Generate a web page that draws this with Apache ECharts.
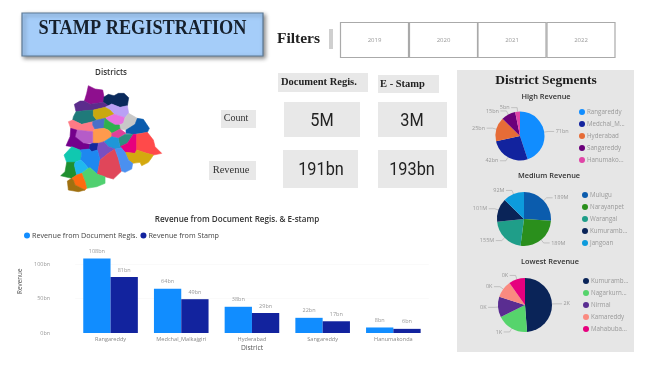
<!DOCTYPE html>
<html><head><meta charset="utf-8">
<style>html,body{margin:0;padding:0;background:#fff}#c{width:650px;height:374px;filter:blur(0.35px)}</style>
<script src="https://cdn.jsdelivr.net/npm/echarts@6/dist/echarts.min.js"></script>
</head><body><div id="c"></div>
<script>
const barDistricts = ['Rangareddy','Medchal_Malkajgiri','Hyderabad','Sangareddy','Hanumakonda'];
const docRevenue = [108,64,38,22,8];
const stampRevenue = [81,49,29,17,6];
const yTicks = [0,50,100];

const highNames = ['Rangareddy','Medchal_Malkajgiri','Hyderabad','Sangareddy','Hanumakonda'];
const highValues = [71,42,25,15,5];
const highColors = ['#118DFF','#12239E','#E66C37','#6B007B','#E044A7'];

const mediumNames = ['Mulugu','Narayanpet','Warangal','Kumurambheem','Jangoan'];
const mediumValues = [189,189,155,101,92];
const mediumColors = ['#0B5CAD','#2A8F1C','#1F9E89','#0A2458','#0D9BDC'];

const lowNames = ['Kumurambheem','Nagarkurnool','Nirmal','Kamareddy','Mahabubabad'];
const lowValues = [1600,620,400,340,320];
const lowColors = ['#0A2458','#56D46C','#5A2D91','#FA8A80','#E6007E'];

const years = ['2019','2020','2021','2022'];

// District outlines of the state map (map geometry, x / y in map units)
const mapShapes = [
 ['#8E0F8E',[[145,32],[165,42],[188,45],[192,66],[190,82],[150,88],[133,78],[140,55]]],
 ['#0A2A5C',[[192,66],[205,58],[222,62],[235,55],[252,55],[266,68],[262,92],[240,97],[215,87],[205,92],[190,82]]],
 ['#5B2C8C',[[103,88],[120,78],[133,78],[150,88],[190,82],[205,92],[195,97],[160,105],[125,108],[108,110]]],
 ['#B9A0F5',[[205,92],[215,87],[240,97],[262,92],[266,115],[255,128],[222,118],[210,105],[195,97]]],
 ['#1F7A7A',[[108,110],[125,108],[160,105],[160,122],[170,135],[158,140],[125,148],[98,135],[100,125]]],
 ['#C9A80F',[[160,105],[195,97],[210,105],[222,118],[212,122],[195,130],[170,135],[160,122]]],
 ['#E870E0',[[212,122],[222,118],[255,128],[250,145],[238,150],[225,150],[208,140],[195,130]]],
 ['#C8C8C8',[[255,128],[266,115],[292,130],[285,148],[258,165],[240,162],[238,150],[250,145]]],
 ['#0B5CAD',[[292,130],[310,133],[328,160],[322,172],[280,178],[258,175],[258,165],[285,148]]],
 ['#FF7A85',[[85,140],[98,135],[125,148],[158,140],[158,150],[165,163],[158,170],[110,165],[92,160]]],
 ['#4A70C8',[[158,140],[170,135],[195,130],[192,150],[192,160],[165,163],[158,150]]],
 ['#2FB04F',[[195,130],[208,140],[225,150],[238,150],[240,162],[225,170],[215,175],[205,165],[192,160],[192,150]]],
 ['#FF9A4D',[[165,163],[192,160],[205,165],[215,175],[215,185],[192,200],[175,205],[158,205],[158,170]]],
 ['#B55CC8',[[110,165],[158,170],[158,205],[130,205],[105,185]]],
 ['#74008C',[[92,160],[110,165],[105,185],[130,205],[150,208],[148,222],[120,225],[95,215],[78,212],[90,185]]],
 ['#E0409A',[[215,175],[225,170],[240,162],[258,175],[255,178],[235,190],[215,185]]],
 ['#2C9080',[[235,190],[255,178],[280,178],[262,205],[240,215],[235,195]]],
 ['#E6007E',[[240,215],[262,205],[280,178],[290,178],[290,225],[285,235],[255,232],[245,220]]],
 ['#FF4A4A',[[290,178],[322,172],[340,195],[345,215],[365,235],[340,240],[320,235],[290,225]]],
 ['#D4A90F',[[255,232],[285,235],[290,225],[320,235],[340,240],[335,248],[325,262],[305,272],[300,262],[278,265],[265,255]]],
 ['#1F96D8',[[192,200],[215,185],[235,190],[235,195],[240,215],[245,220],[225,222],[205,215]]],
 ['#14289C',[[150,208],[158,205],[175,205],[172,225],[155,230],[148,222]]],
 ['#7A4FC0',[[175,205],[192,200],[205,215],[225,222],[205,235],[180,255],[172,225]]],
 ['#10C8B0',[[72,240],[95,215],[120,225],[125,235],[122,255],[105,262],[80,262]]],
 ['#1E88F0',[[120,225],[148,222],[155,230],[172,225],[180,255],[172,298],[150,278],[145,280],[130,262],[122,255],[125,235]]],
 ['#E0465A',[[180,255],[205,235],[225,222],[235,250],[245,288],[220,312],[195,305],[172,298]]],
 ['#4A90F0',[[225,222],[245,220],[255,232],[265,255],[278,265],[275,282],[255,292],[245,288],[235,250]]],
 ['#1F8F2F',[[80,262],[105,262],[103,270],[110,300],[95,310],[62,302],[75,290]]],
 ['#20B8EE',[[105,262],[122,255],[130,262],[145,280],[125,295],[110,300],[103,270]]],
 ['#50D070',[[125,295],[145,280],[150,278],[172,298],[195,305],[195,325],[170,335],[140,340],[135,320]]],
 ['#FF6A10',[[95,310],[110,300],[125,295],[135,320],[140,340],[135,345],[105,330],[100,315]]],
 ['#A07010',[[82,318],[95,310],[100,315],[105,330],[135,345],[115,350],[85,345]]]
];

const sans = '"Open Sans","Noto Sans",sans-serif';
const serif = '"Liberation Serif",serif';
const din = 'Roboto,sans-serif';
const grey = '#999';
const bn = v => Math.round(v) + 'bn';

echarts.registerMap('telangana', {type:'FeatureCollection', features: mapShapes.map((s,i)=>{
  const ring = s[1].map(p=>[p[0],-p[1]]); ring.push(ring[0]);
  return {type:'Feature',properties:{name:'d'+i},geometry:{type:'Polygon',coordinates:[ring]}};
})});

function box(x,y,w,h,fill,extra){return {type:'rect',silent:true,z:0,shape:{x,y,width:w,height:h},style:Object.assign({fill},extra||{})};}
function txt(t,x,y,font,fill,align,sx){return {type:'text',silent:true,z:5,x,y,scaleX:sx||1,style:{text:t,x:0,y:0,font,fill,align:align||'center',verticalAlign:'middle'}};}

const graphics = [
  box(22,13,241,43,'#A5CDF9',{stroke:'#5D7A96',lineWidth:1.2,shadowBlur:4,shadowColor:'rgba(0,0,0,0.45)',shadowOffsetX:2,shadowOffsetY:2}),
  txt('STAMP REGISTRATION',142.5,28.5,'bold 21px '+serif,'#16202c','center',0.87),
  txt('Filters',277,38.5,'bold 15.5px '+serif,'#222','left'),
  box(329,29,4,20,'#cfcfcf'),
  box(278,73,90,19,'#e8e8e8'),
  txt('Document Regis.',281,82.5,'bold 10.5px '+serif,'#222','left'),
  box(378,75,61,18,'#e8e8e8'),
  txt('E - Stamp',380,84,'bold 10.5px '+serif,'#222','left'),
  box(221,110,35,18,'#e8e8e8'),
  txt('Count',236,118.5,'10px '+serif,'#333'),
  box(209,161,47,19,'#e8e8e8'),
  txt('Revenue',231,170,'10.5px '+serif,'#333'),
  box(284,102,76,35,'#e8e8e8'),
  txt('5M',322,121,'18.5px '+din,'#222','center',0.88),
  box(378,102,69,35,'#e8e8e8'),
  txt('3M',412,121,'18.5px '+din,'#222','center',0.88),
  box(283,150,75,38,'#e8e8e8'),
  txt('191bn',321,170,'18.5px '+din,'#222','center',0.88),
  box(378,150,69,38,'#e8e8e8'),
  txt('193bn',412,170,'18.5px '+din,'#222','center',0.88),
  box(457,70,177,282,'#e6e6e6'),
  txt('District Segments',546,80.5,'bold 13.5px '+serif,'#1c1c1c')
];
years.forEach((y,i)=>{
  const x=[340.5,409.5,478,547][i];
  graphics.push(box(x,22.5,68,35,'#fff',{stroke:'#aaa',lineWidth:1.2}));
  graphics.push(txt(y,x+34,40.5,'6px '+sans,'#999'));
});

function pieSeries(names,values,colors,cx,cy,r,fmt,lines){
  return {type:'pie',center:[cx,cy],radius:[0,r],startAngle:90,clockwise:true,silent:true,animation:false,z:3,
    minAngle:0,avoidLabelOverlap:false,
    data:names.map((n,i)=>({name:n,value:values[i],itemStyle:{color:colors[i]}})),
    label:{show:true,position:'outside',formatter:p=>fmt(p.value),color:grey,fontSize:5.5,fontFamily:sans,distanceToLabelLine:1.5},
    labelLine:{show:true,length:lines[0],length2:lines[1],lineStyle:{color:'#b0b0b0',width:0.7}}};
}
function pieLegend(names,left,top){
  return {data:names,orient:'vertical',left,top,itemWidth:6,itemHeight:6,itemGap:4,padding:0,icon:'circle',selectedMode:false,
    textStyle:{color:grey,fontSize:6.2,lineHeight:8,fontFamily:sans,width:40,overflow:'truncate',padding:[0,0,0,-3]}};
}

const chart = echarts.init(document.getElementById('c'),null,{renderer:'canvas'});
chart.setOption({
  animation:false,
  backgroundColor:'#fff',
  graphic:{elements:graphics},
  title:[
    {text:'Districts',left:111,top:69,textAlign:'center',padding:0,textStyle:{fontSize:8,fontWeight:600,color:'#333',fontFamily:sans}},
    {text:'Revenue from Document Regis. & E-stamp',left:237,top:216,textAlign:'center',padding:0,textStyle:{fontSize:8.1,fontWeight:600,color:'#333',fontFamily:sans}},
    {text:'High Revenue',left:546,top:93.5,textAlign:'center',padding:0,textStyle:{fontSize:7.4,fontWeight:600,color:'#333',fontFamily:sans}},
    {text:'Medium Revenue',left:549,top:172.5,textAlign:'center',padding:0,textStyle:{fontSize:7.4,fontWeight:600,color:'#333',fontFamily:sans}},
    {text:'Lowest Revenue',left:550,top:258.5,textAlign:'center',padding:0,textStyle:{fontSize:7.4,fontWeight:600,color:'#333',fontFamily:sans}}
  ],
  legend:[
    {data:['Revenue from Document Regis.','Revenue from Stamp'],left:24,top:232,itemWidth:6,itemHeight:6,itemGap:3,padding:0,icon:'circle',selectedMode:false,
      textStyle:{color:'#444',fontSize:7.2,fontFamily:sans,padding:[0,0,0,-3]}},
    pieLegend(highNames,579,108),
    pieLegend(mediumNames,582,191),
    pieLegend(lowNames,583,277)
  ],
  grid:{left:75.2,top:229.5,width:353.5,height:103.5,containLabel:false},
  xAxis:{type:'category',data:barDistricts,
    axisLine:{show:false},axisTick:{show:false},
    axisLabel:{color:'#888',fontSize:5.6,fontFamily:sans,margin:3.5,interval:0},
    name:'District',nameLocation:'middle',nameGap:12,nameTextStyle:{color:'#555',fontSize:6.7,fontFamily:sans}},
  yAxis:{type:'value',min:0,max:150,interval:yTicks[1]-yTicks[0],
    axisLine:{show:false},axisTick:{show:false},
    axisLabel:{color:grey,fontSize:5.5,fontFamily:sans,margin:25,showMaxLabel:false,formatter:bn},
    splitLine:{show:true,showMinLine:false,showMaxLine:false,lineStyle:{color:'#f8f8f8',width:0.7}},
    name:'Revenue',nameLocation:'middle',nameRotate:90,nameGap:47,nameTextStyle:{color:'#555',fontSize:6.3,fontFamily:sans}},
  series:[
    {type:'map',map:'telangana',left:60.7,top:85.7,width:101,height:106,aspectScale:1,roam:false,silent:true,z:2,showLegendSymbol:false,
      label:{show:false},emphasis:{disabled:true},select:{disabled:true},
      data:mapShapes.map((s,i)=>({name:'d'+i,value:1,itemStyle:{areaColor:s[0],borderColor:s[0],borderWidth:0.6}}))},
    {type:'bar',name:'Revenue from Document Regis.',data:docRevenue,itemStyle:{color:'#118DFF'},barWidth:27.3,barGap:0,silent:true,z:3,
      label:{show:true,position:'top',distance:4,formatter:p=>bn(p.value),color:grey,fontSize:5.5,fontFamily:sans}},
    {type:'bar',name:'Revenue from Stamp',data:stampRevenue,itemStyle:{color:'#12239E'},barWidth:27.3,barGap:0,silent:true,z:3,
      label:{show:true,position:'top',distance:4,formatter:p=>bn(p.value),color:grey,fontSize:5.5,fontFamily:sans}},
    pieSeries(highNames,highValues,highColors,520,136,24.5,bn,[4,6]),
    pieSeries(mediumNames,mediumValues,mediumColors,524,219,27,v=>v+'M',[4,6]),
    pieSeries(lowNames,lowValues,lowColors,525,305,27,v=>Math.round(v/1000)+'K',[4,6])
  ]
});
</script></body></html>
